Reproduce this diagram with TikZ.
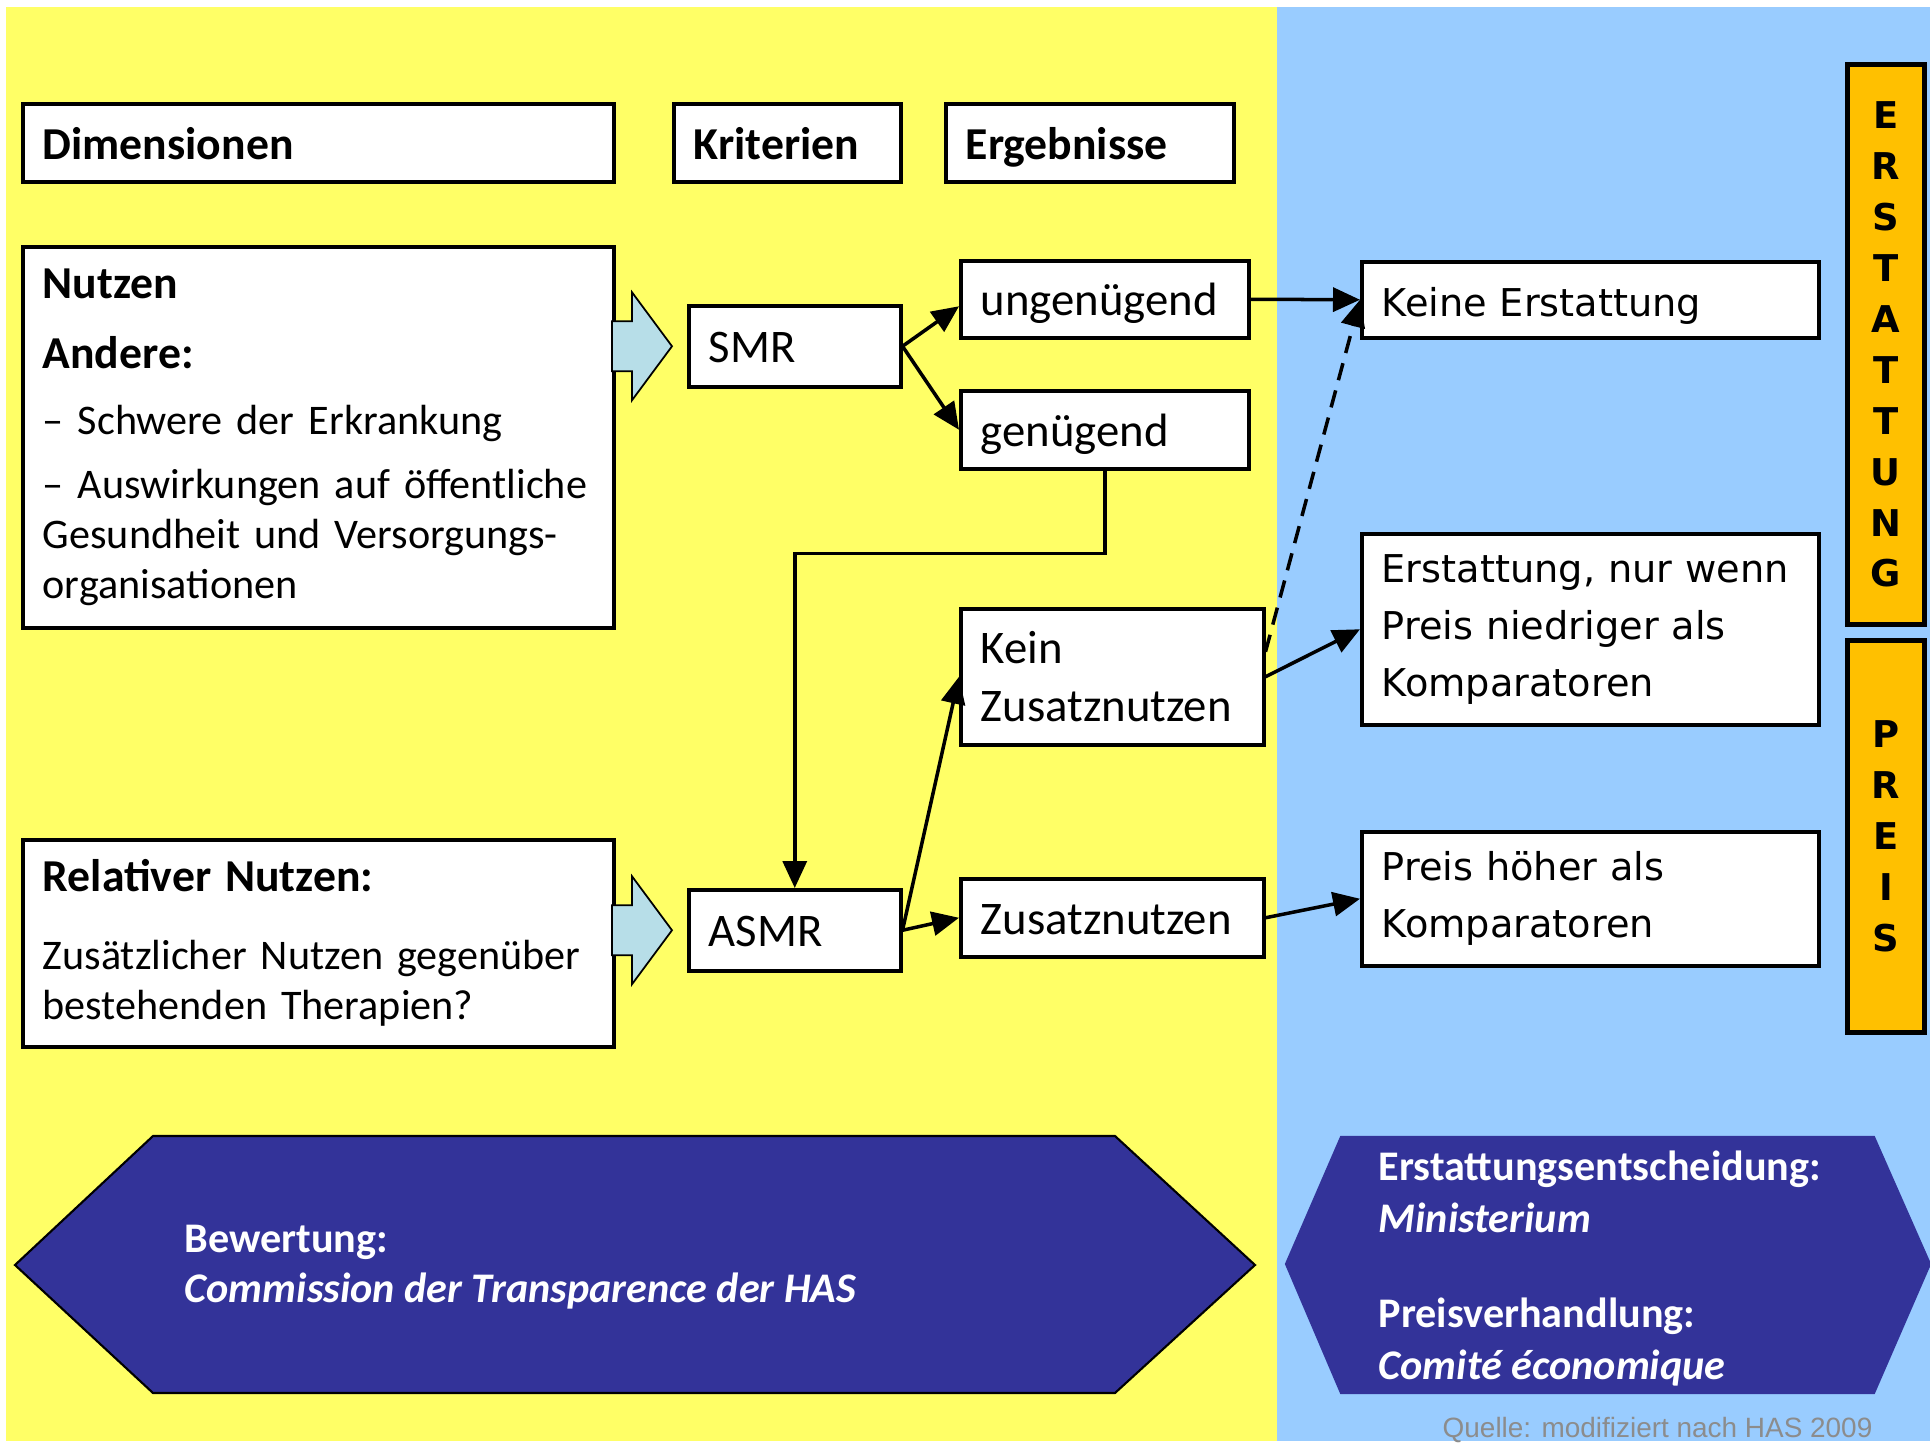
\documentclass[tikz,border=0pt]{standalone}
\usepackage{fontspec}
\setmainfont{Carlito}
\newfontfamily\verdfont{DejaVu Sans}
\newfontfamily\arialfont{Liberation Sans}
\usetikzlibrary{arrows.meta,calc}
\definecolor{bgyellow}{HTML}{FFFF66}
\definecolor{bgblue}{HTML}{99CCFF}
\definecolor{fatcyan}{HTML}{B7DEE8}
\definecolor{hexblue}{HTML}{333399}
\definecolor{tagorange}{HTML}{FFC000}
\definecolor{srcgray}{HTML}{8C8C8C}
\newcommand{\fatarr}[1]{%
  \filldraw[fatarrow] ($(#1.west)+(-0.15,0)$) -- ++(-0.4,0.54) -- ++(0,-0.29) -- ++(-0.2,0)
    -- ++(0,-0.5) -- ++(0.2,0) -- ++(0,-0.29) -- cycle;}

\begin{document}
\begin{tikzpicture}[
  box/.style 2 args={draw, line width=1pt, fill=white, anchor=north west, align=left,
    inner xsep=0.2cm, inner ysep=0pt, text width=#1, minimum height=#2},
  hdr/.style={font=\bfseries\fontsize{13pt}{15pt}\selectfont, text height=9.3pt, text depth=0pt},
  crit/.style={font=\fontsize{13.3pt}{16.5pt}\selectfont},
  oneline/.style={text height=9.3pt, text depth=0pt},
  txt/.style={font=\fontsize{12pt}{14.2pt}\selectfont},
  verd/.style={font=\verdfont\fontsize{10.9pt}{16.2pt}\selectfont},
  tag/.style={draw, line width=1.4pt, fill=tagorange, anchor=north west, align=center,
    minimum width=0.77cm, inner sep=0pt, font=\verdfont\bfseries\fontsize{10.5pt}{14.5pt}\selectfont},
  hex/.style={fill=hexblue, draw=black, line width=0.6pt},
  hextext/.style={text=white, anchor=west, align=left, inner sep=0pt},
  arr/.style={line width=1pt, -{Triangle[length=2.7mm,width=2.4mm]}},
  fatarrow/.style={fill=fatcyan, draw=black, line width=0.5pt}
]
  \useasboundingbox (0,0) rectangle (19.3,-14.43);
  % backgrounds
  \fill[bgyellow] (0.06,-0.07) rectangle (12.77,-14.41);
  \fill[bgblue] (12.77,-0.07) rectangle (19.30,-14.41);

  % column headers
  \node[box={5.51cm}{0.78cm}, hdr] (dim) at (0.21,-1.02) {Dimensionen};
  \node[box={1.87cm}{0.78cm}, hdr] (krit) at (6.72,-1.02) {Kriterien};
  \node[box={2.48cm}{0.78cm}, hdr] (erg) at (9.44,-1.02) {Ergebnisse};

  % dimensions
  \node[box={5.51cm}{3.81cm}, txt] (nutzen) at (0.21,-2.45)
    {{\bfseries\fontsize{13pt}{14.2pt}\selectfont Nutzen}\\[5.7pt]
     {\bfseries\fontsize{13pt}{14.2pt}\selectfont Andere:}\\[4.8pt]
     – Schwere der Erkrankung\\[4pt]
     – Auswirkungen auf öffentliche\\Gesundheit und Versorgungs-\\organisationen};
  \node[box={5.51cm}{2.07cm}, txt] (relnutzen) at (0.21,-8.38)
    {{\bfseries\fontsize{13pt}{14.2pt}\selectfont Relativer Nutzen:}\\[8pt]
     Zusätzlicher Nutzen gegenüber\\bestehenden Therapien?};

  % criteria and results
  \node[box={1.72cm}{0.81cm}, crit, oneline] (smr) at (6.87,-3.04) {SMR};
  \node[box={1.72cm}{0.81cm}, crit, oneline] (asmr) at (6.87,-8.88) {ASMR};
  \node[box={2.48cm}{0.77cm}, crit, oneline] (unge) at (9.59,-2.59) {ungenügend};
  \node[box={2.48cm}{0.78cm}, crit, oneline] (genu) at (9.59,-3.89) {genügend};
  \node[box={2.63cm}{1.36cm}, crit] (kein) at (9.59,-6.07) {Kein\\Zusatznutzen};
  \node[box={2.63cm}{0.78cm}, crit, oneline] (zusatz) at (9.59,-8.77) {Zusatznutzen};

  % decisions
  \node[box={4.17cm}{0.76cm}, verd, text height=9.7pt, text depth=0pt] (keine) at (13.60,-2.60) {Keine Erstattung};
  \node[box={4.17cm}{1.91cm}, verd] (erst) at (13.60,-5.32) {Erstattung, nur wenn\\Preis niedriger als\\Komparatoren};
  \node[box={4.17cm}{1.34cm}, verd] (preis) at (13.60,-8.30) {Preis höher als\\Komparatoren};

  % side tags
  \node[tag, minimum height=5.60cm] (tagerst) at (18.45,-0.62) {E\\R\\S\\T\\A\\T\\T\\U\\N\\G};
  \node[tag, minimum height=3.92cm] (tagpreis) at (18.45,-6.38) {P\\R\\E\\I\\S};

  % bottom hexagons
  \draw[hex] (0.15,-12.65) -- (1.53,-11.36) -- (11.15,-11.36) -- (12.55,-12.65)
    -- (11.15,-13.93) -- (1.53,-13.93) -- cycle;
  \draw[hex, draw=hexblue] (12.86,-12.64) -- (13.41,-11.37) -- (18.74,-11.37) -- (19.30,-12.64)
    -- (18.74,-13.93) -- (13.41,-13.93) -- cycle;
  \node[hextext, font=\bfseries\fontsize{12pt}{14.2pt}\selectfont] (bew) at (1.84,-12.67)
    {Bewertung:\\{\itshape Commission der Transparence der HAS}};
  \node[hextext, font=\bfseries\fontsize{12pt}{14.8pt}\selectfont] (entsch) at (13.78,-12.685)
    {Erstattungsentscheidung:\\{\itshape Ministerium}\\[12.2pt]Preisverhandlung:\\{\itshape Comité économique}};
  \node[anchor=base west, inner sep=0pt, text=srcgray, font=\arialfont\fontsize{7.95pt}{9pt}\selectfont]
    (quelle) at (14.42,-14.37) {Quelle: modifiziert nach HAS 2009};

  % connectors
  \draw[arr] (smr.east) -- ([yshift=-0.07cm]unge.west);
  \draw[arr] (smr.east) -- (genu.west);
  \draw[arr] (genu.south) -- ++(0,-0.83) -| (asmr.north);
  \draw[arr] (asmr.east) -- (kein.west);
  \draw[arr] (asmr.east) -- (zusatz.west);
  \draw[arr] (unge.east) -- (keine.west);
  \draw[arr, dash pattern=on 5pt off 3pt] ([yshift=0.25cm]kein.east) -- (keine.west);
  \draw[arr] (kein.east) -- (erst.west);
  \draw[arr] (zusatz.east) -- (preis.west);

  % block arrows
  \fatarr{smr}
  \fatarr{asmr}
\end{tikzpicture}
\end{document}
